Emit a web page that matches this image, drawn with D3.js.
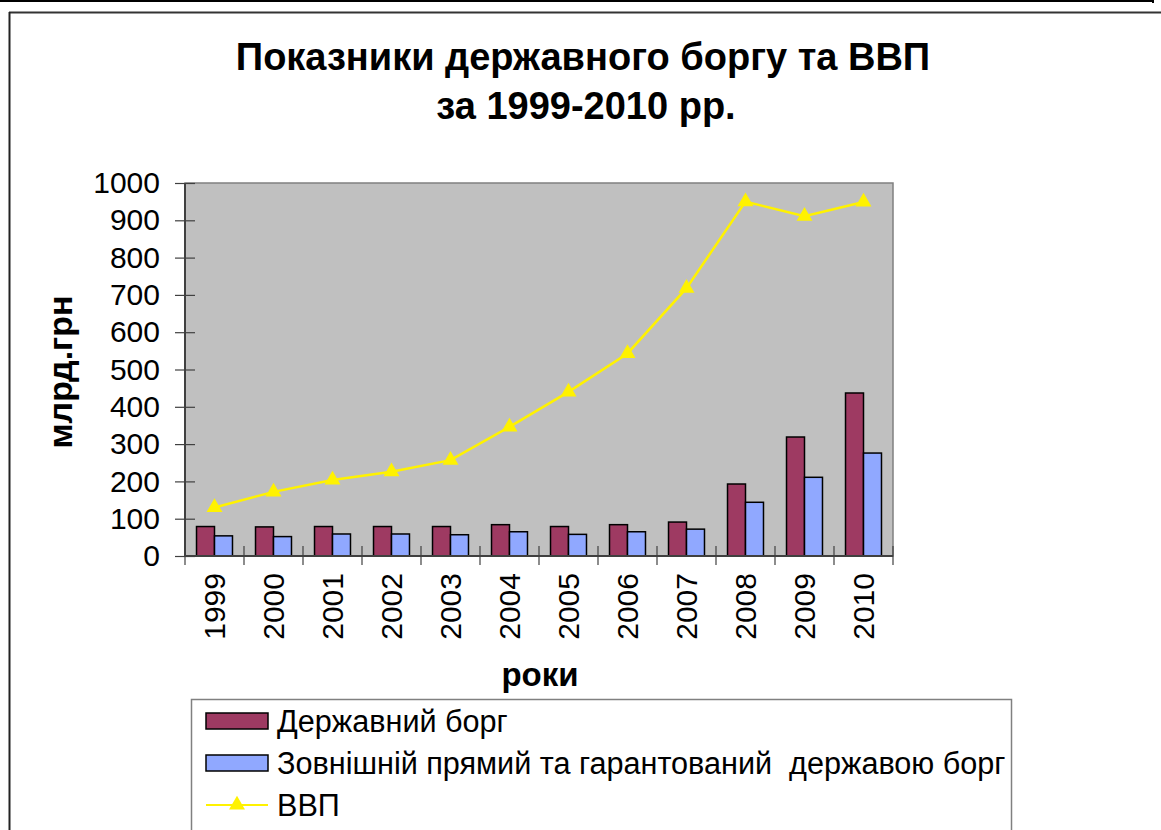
<!DOCTYPE html>
<html>
<head>
<meta charset="utf-8">
<script src="https://cdn.jsdelivr.net/npm/d3@7"></script>
<style>
  body { margin: 0; background: #fff; }
  svg text { font-family: Arial, "Liberation Sans", sans-serif; }
</style>
</head>
<body>
<svg id="chart" width="1161" height="830"></svg>
<script>
// values (млрд.грн)
var years = ["1999", "2000", "2001", "2002", "2003", "2004", "2005", "2006", "2007", "2008", "2009", "2010"];
var stateDebt = [79, 78, 79, 79, 79, 84, 79, 84, 91, 193, 319, 437];
var externalDebt = [54, 52, 59, 59, 57, 65, 58, 65, 72, 144, 211, 276];
var gdp = [130, 172, 204, 226, 257, 346, 440, 543, 718, 950, 911, 949];
var yTicks = [0, 100, 200, 300, 400, 500, 600, 700, 800, 900, 1000];
var seriesNames = ["Державний борг", "Зовнішній прямий та гарантований  державою борг", "ВВП"];
var colors = ["#9E3A62", "#90A8FF", "#FFF200"];

var svg = d3.select("#chart");

// outer frame lines
svg.append("line").attr("x1", 0).attr("x2", 1154).attr("y1", 1).attr("y2", 1)
    .attr("stroke", "#000").attr("stroke-width", 2);
svg.append("line").attr("x1", 1153).attr("x2", 1153).attr("y1", 0).attr("y2", 3)
    .attr("stroke", "#000").attr("stroke-width", 2);
svg.append("line").attr("x1", 9).attr("x2", 1161).attr("y1", 12.5).attr("y2", 12.5)
    .attr("stroke", "#333").attr("stroke-width", 2);
svg.append("line").attr("x1", 9.5).attr("x2", 9.5).attr("y1", 12).attr("y2", 830)
    .attr("stroke", "#222").attr("stroke-width", 2);

// title
svg.append("text").attr("x", 583).attr("y", 70).attr("text-anchor", "middle")
    .attr("font-size", 38).attr("font-weight", "bold")
    .text("Показники державного боргу та ВВП");
svg.append("text").attr("x", 586).attr("y", 119).attr("text-anchor", "middle")
    .attr("font-size", 38).attr("font-weight", "bold")
    .text("за 1999-2010 рр.");

var x = d3.scaleBand().domain(years).range([185, 893]);
var xInner = d3.scaleBand().domain([0, 1]).range([0, x.bandwidth()]).paddingOuter(0.64);
var y = d3.scaleLinear().domain([0, 1000]).range([556, 183]);

// plot area
svg.append("rect").attr("x", 185).attr("y", 183).attr("width", 708).attr("height", 373)
    .attr("fill", "#C0C0C0").attr("stroke", "#808080").attr("stroke-width", 1.5);

// y axis with crossing ticks
var yAxis = svg.append("g").attr("transform", "translate(195,0)")
    .call(d3.axisLeft(y).tickValues(yTicks).tickFormat(d3.format("d")).tickSize(20).tickPadding(15));
yAxis.select(".domain").remove();
yAxis.selectAll("line").attr("stroke", "#404040").attr("stroke-width", 1.2);
yAxis.selectAll("text").attr("font-size", 30).attr("fill", "#000")
    .attr("font-family", "Arial, 'Liberation Sans', sans-serif");

svg.append("line").attr("x1", 185).attr("x2", 185).attr("y1", 183).attr("y2", 556)
    .attr("stroke", "#404040").attr("stroke-width", 2);

// bars
var debtSeries = [stateDebt, externalDebt];
debtSeries.forEach(function (vals, s) {
    svg.append("g").selectAll("rect").data(vals).enter().append("rect")
        .attr("x", function (d, i) { return x(years[i]) + xInner(s); })
        .attr("y", function (d) { return y(d); })
        .attr("width", xInner.bandwidth())
        .attr("height", function (d) { return y(0) - y(d); })
        .attr("fill", colors[s])
        .attr("stroke", "#000").attr("stroke-width", 1.5);
});

// x axis line and ticks at category edges
svg.append("line").attr("x1", 185).attr("x2", 893).attr("y1", 556).attr("y2", 556)
    .attr("stroke", "#404040").attr("stroke-width", 2);
var edges = years.map(function (d) { return x(d); }).concat([x.range()[1]]);
svg.append("g").selectAll("line").data(edges).enter().append("line")
    .attr("x1", function (d) { return d; }).attr("x2", function (d) { return d; })
    .attr("y1", 546).attr("y2", 565)
    .attr("stroke", "#404040").attr("stroke-width", 1.2);

var xAxis = svg.append("g").attr("transform", "translate(0,556)")
    .call(d3.axisBottom(x).tickSize(0));
xAxis.select(".domain").remove();
xAxis.selectAll("text")
    .attr("font-size", 30).attr("fill", "#000")
    .attr("font-family", "Arial, 'Liberation Sans', sans-serif")
    .attr("text-anchor", "end")
    .attr("transform", "rotate(-90)")
    .attr("x", -17).attr("y", 0).attr("dy", "0.35em");

// GDP line
var line = d3.line().x(function (d, i) { return x(years[i]) + x.bandwidth() / 2; })
    .y(function (d) { return y(d); });
svg.append("path").datum(gdp).attr("d", line)
    .attr("fill", "none").attr("stroke", colors[2]).attr("stroke-width", 2.5);
var tri = d3.symbol().type(d3.symbolTriangle).size(110);
svg.append("g").selectAll("path").data(gdp).enter().append("path")
    .attr("d", tri)
    .attr("transform", function (d, i) {
        return "translate(" + (x(years[i]) + x.bandwidth() / 2) + "," + y(d) + ")";
    })
    .attr("fill", colors[2]);

// axis titles
svg.append("text").attr("transform", "translate(72,372) rotate(-90)")
    .attr("text-anchor", "middle").attr("font-size", 34).attr("font-weight", "bold")
    .text("млрд.грн");
svg.append("text").attr("x", 540).attr("y", 686).attr("text-anchor", "middle")
    .attr("font-size", 33).attr("font-weight", "bold")
    .text("роки");

// legend
svg.append("rect").attr("x", 191.5).attr("y", 699.5).attr("width", 820).attr("height", 200)
    .attr("fill", "#fff").attr("stroke", "#808080").attr("stroke-width", 1.5);
var legendY = [721, 763, 805];
seriesNames.forEach(function (name, s) {
    var g = svg.append("g");
    if (s < 2) {
        g.append("rect").attr("x", 206).attr("y", legendY[s] - 8).attr("width", 62).attr("height", 16)
            .attr("fill", colors[s]).attr("stroke", "#000").attr("stroke-width", 1.5);
    } else {
        g.append("line").attr("x1", 206).attr("x2", 268).attr("y1", legendY[s]).attr("y2", legendY[s])
            .attr("stroke", colors[2]).attr("stroke-width", 2);
        g.append("path").attr("d", tri).attr("fill", colors[2])
            .attr("transform", "translate(237," + legendY[s] + ")");
    }
    g.append("text").attr("x", 277).attr("y", legendY[s]).attr("dy", "0.35em")
        .attr("font-size", 30.6).attr("xml:space", "preserve").style("white-space", "pre")
        .text(name);
});
</script>
</body>
</html>
